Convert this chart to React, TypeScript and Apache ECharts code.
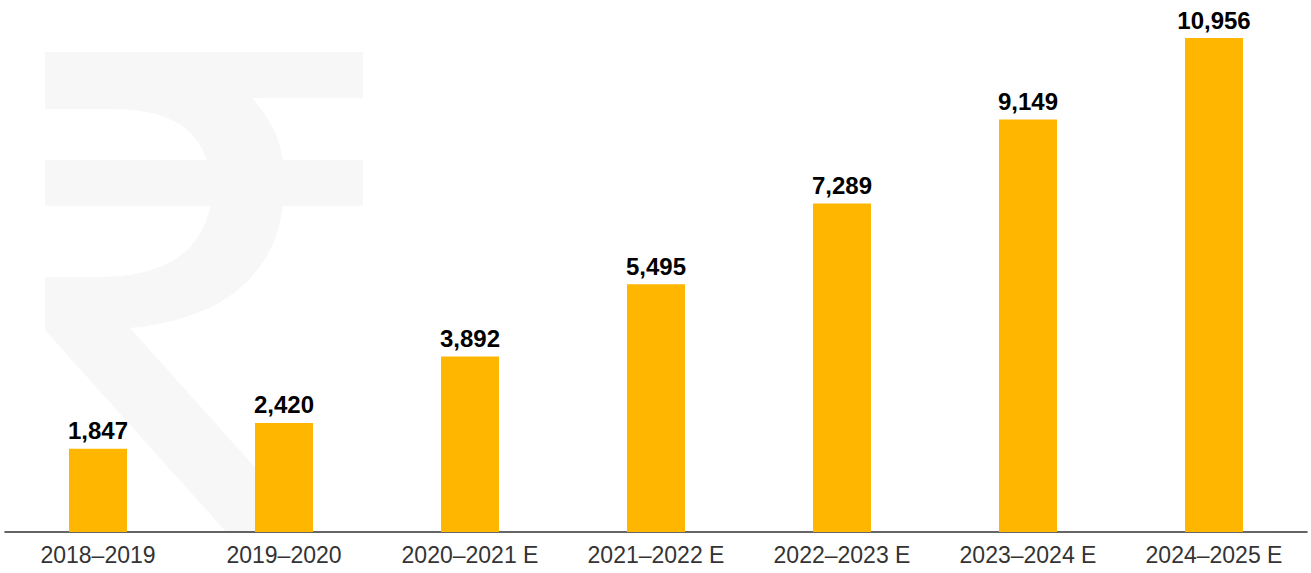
import React, { useEffect, useRef } from "react";
import * as echarts from "echarts";

const categories = [
  "2018–2019",
  "2019–2020",
  "2020–2021 E",
  "2021–2022 E",
  "2022–2023 E",
  "2023–2024 E",
  "2024–2025 E",
];
const values = [1847, 2420, 3892, 5495, 7289, 9149, 10956];

const rupeePath =
  "M45,52 L363,52 L363,98 L252,98 C268,115 279,135 283,160 L363,160 L363,206 L283,206 " +
  "C276,262 238,318 130,328 L314,533 L227,533 L45,330 L45,277 L97,277 " +
  "C168,277 202,250 210,206 L45,206 L45,160 L207,160 C195,125 165,109 110,109 L45,109 Z";

let registered = false;

export default function App() {
  const ref = useRef<HTMLDivElement>(null);
  useEffect(() => {
    document.body.style.margin = "0";
    if (!registered) {
      echarts.graphic.registerShape("rupee", echarts.graphic.extendPath(rupeePath, {}) as any);
      registered = true;
    }
    const chart = echarts.init(ref.current!, null, { renderer: "svg" });
    chart.setOption({
      animation: false,
      backgroundColor: "#ffffff",
      graphic: [
        {
          type: "rupee",
          x: 0,
          y: 0,
          z: -10,
          silent: true,
          style: { fill: "#f7f7f7" },
        } as any,
      ],
      grid: { left: 5, right: 4, top: 0, bottom: 41, containLabel: false },
      xAxis: {
        type: "category",
        data: categories,
        axisLine: { show: true, lineStyle: { color: "#333333", width: 1.5 } },
        axisTick: { show: false },
        axisLabel: {
          color: "#333333",
          fontSize: 23,
          fontFamily: "Liberation Sans, Arial, sans-serif",
          margin: 11,
        },
      },
      yAxis: {
        type: "value",
        min: 0,
        max: 11800,
        show: false,
        splitLine: { show: false },
      },
      series: [
        {
          type: "bar",
          data: values,
          barWidth: 58,
          itemStyle: { color: "#ffb600" },
          label: {
            show: true,
            position: "top",
            distance: 6,
            color: "#000000",
            fontWeight: "bold",
            fontSize: 24,
            fontFamily: "Liberation Sans, Arial, sans-serif",
            formatter: (p: any) => p.value.toLocaleString("en-US"),
          },
        },
      ],
    });
    return () => chart.dispose();
  }, []);
  return <div ref={ref} style={{ width: 1311, height: 573 }} />;
}
